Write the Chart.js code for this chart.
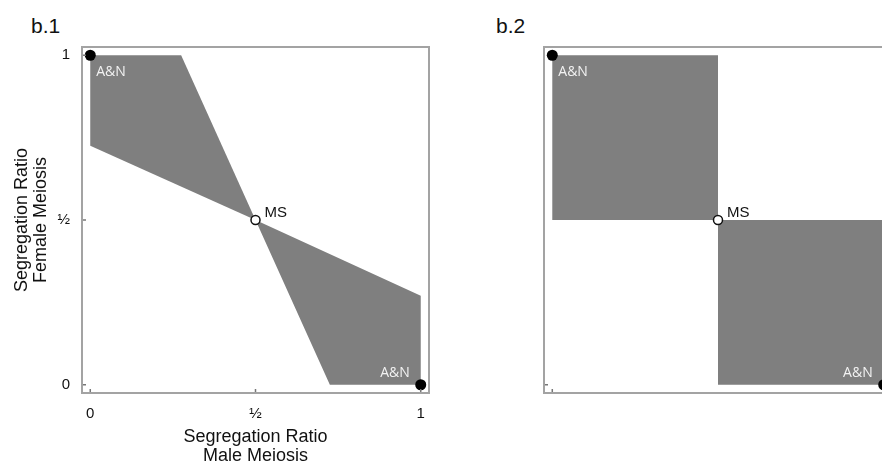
<!DOCTYPE html>
<html>
<head>
<meta charset="utf-8">
<script src="https://cdn.jsdelivr.net/npm/chart.js@4/dist/chart.umd.min.js"></script>
<style>
  html, body { margin: 0; padding: 0; background: #fff; }
  body { width: 882px; height: 466px; position: relative; overflow: hidden; }
  .panel { position: absolute; top: 0; }
  .tag { position: absolute; top: 15px; font: 21px "Liberation Sans", Arial, sans-serif; color: #111; line-height: 1; }
</style>
</head>
<body>
<div class="tag" style="left:31px">b.1</div>
<div class="tag" style="left:496px">b.2</div>
<canvas id="chart1" class="panel" style="left:0" width="450" height="466"></canvas>
<canvas id="chart2" class="panel" style="left:480px" width="430" height="466"></canvas>
<script>
// tick positions and labels (shared by both panels)
const tickValues = [0, 0.5, 1];
const tickLabels = ['0', '½', '1'];

// b.1 : shaded bow-tie region
const b1Upper = [{x: 0, y: 1}, {x: 0.275, y: 1}, {x: 0.5, y: 0.5}, {x: 0, y: 0.725}];
const b1Lower = [{x: 0.5, y: 0.5}, {x: 1, y: 0.27}, {x: 1, y: 0}, {x: 0.725, y: 0}];

// b.2 : shaded quadrants
const b2Upper = [{x: 0, y: 1}, {x: 0.5, y: 1}, {x: 0.5, y: 0.5}, {x: 0, y: 0.5}];
const b2Lower = [{x: 0.5, y: 0.5}, {x: 1, y: 0.5}, {x: 1, y: 0}, {x: 0.5, y: 0}];

// marked points
const anPoints = [{x: 0, y: 1}, {x: 1, y: 0}];
const msPoints = [{x: 0.5, y: 0.5}];

// point labels
const pointLabels = [
    {text: 'A&N', x: 0, y: 1, dx: 6, dy: 17, align: 'left', color: '#f2f2f2', font: '14px "Open Sans", sans-serif'},
    {text: 'A&N', x: 1, y: 0, dx: -11, dy: -12, align: 'right', color: '#f2f2f2', font: '14px "Open Sans", sans-serif'},
    {text: 'MS', x: 0.5, y: 0.5, dx: 9, dy: -7, align: 'left', color: '#111', font: '15px "Liberation Sans", Arial, sans-serif'}
];

const grey = '#7f7f7f';
const frameColor = '#a3a3a3';

// full box around the plot, plus the small inward tick marks
const framePlugin = {
    id: 'frame',
    afterDatasetsDraw(chart, args, opts) {
        const {ctx, chartArea: a, scales} = chart;
        ctx.save();
        ctx.strokeStyle = frameColor;
        ctx.lineWidth = 2;
        ctx.strokeRect(a.left, a.top, a.right - a.left, a.bottom - a.top);
        ctx.lineWidth = 1.5;
        ctx.strokeStyle = '#777';
        ctx.beginPath();
        opts.marks.forEach(v => {
            const px = scales.x.getPixelForValue(v);
            ctx.moveTo(px, a.bottom - 1);
            ctx.lineTo(px, a.bottom - 4);
            const py = scales.y.getPixelForValue(v);
            ctx.moveTo(a.left + 1, py);
            ctx.lineTo(a.left + 4, py);
        });
        ctx.stroke();
        ctx.restore();
    }
};

const labelPlugin = {
    id: 'pointLabels',
    afterDraw(chart) {
        const {ctx, scales} = chart;
        ctx.save();
        ctx.textBaseline = 'middle';
        pointLabels.forEach(l => {
            ctx.font = l.font;
            ctx.fillStyle = l.color;
            ctx.textAlign = l.align;
            ctx.fillText(l.text, scales.x.getPixelForValue(l.x) + l.dx, scales.y.getPixelForValue(l.y) + l.dy);
        });
        ctx.restore();
    }
};

function shape(data) {
    return {
        data: data,
        showLine: true,
        fill: 'shape',
        backgroundColor: grey,
        borderWidth: 0,
        borderColor: grey,
        pointRadius: 0,
        order: 2
    };
}

function makeChart(id, upper, lower, withLabels, yWidth, rightPad, marks) {
    const tickFont = {family: '"Liberation Sans", Arial, sans-serif', size: 15};
    const titleFont = {family: '"Liberation Sans", Arial, sans-serif', size: 18, lineHeight: 1.055};
    new Chart(document.getElementById(id), {
        type: 'scatter',
        data: {
            datasets: [
                {
                    data: msPoints,
                    pointRadius: 4.5,
                    pointBackgroundColor: '#fff',
                    pointBorderColor: '#111',
                    pointBorderWidth: 1.5,
                    order: 0
                },
                {
                    data: anPoints,
                    pointRadius: 5.5,
                    pointBackgroundColor: '#000',
                    pointBorderColor: '#000',
                    pointBorderWidth: 0,
                    order: 1
                },
                shape(upper),
                shape(lower)
            ]
        },
        options: {
            responsive: false,
            animation: false,
            layout: {padding: {top: 47, right: rightPad, bottom: 0, left: 0}},
            plugins: {legend: {display: false}, tooltip: {enabled: false}, frame: {marks: marks}},
            scales: {
                x: {
                    type: 'linear',
                    min: -0.025,
                    max: 1.025,
                    afterFit: s => { s.height = 73; },
                    afterBuildTicks: s => { s.ticks = tickValues.map(v => ({value: v})); },
                    border: {display: false},
                    grid: {display: false, drawTicks: false},
                    ticks: {
                        display: withLabels,
                        padding: 12,
                        color: '#111',
                        font: tickFont,
                        callback: v => tickLabels[tickValues.indexOf(v)]
                    },
                    title: {
                        display: withLabels,
                        text: ['Segregation Ratio', 'Male Meiosis'],
                        color: '#111',
                        font: titleFont,
                        padding: {top: 0, bottom: 0}
                    }
                },
                y: {
                    type: 'linear',
                    min: -0.025,
                    max: 1.025,
                    afterFit: s => { s.width = yWidth; },
                    afterBuildTicks: s => { s.ticks = tickValues.map(v => ({value: v})); },
                    border: {display: false},
                    grid: {display: false, drawTicks: false},
                    ticks: {
                        display: withLabels,
                        padding: 12,
                        color: '#111',
                        font: tickFont,
                        callback: v => tickLabels[tickValues.indexOf(v)]
                    },
                    title: {
                        display: withLabels,
                        text: ['Segregation Ratio', 'Female Meiosis'],
                        color: '#111',
                        font: titleFont,
                        padding: {top: 13, bottom: 0}
                    }
                }
            }
        },
        plugins: [framePlugin, labelPlugin]
    });
}

makeChart('chart1', b1Upper, b1Lower, true, 82, 21, tickValues);
makeChart('chart2', b2Upper, b2Lower, false, 64, 18, [0]);
</script>
</body>
</html>
